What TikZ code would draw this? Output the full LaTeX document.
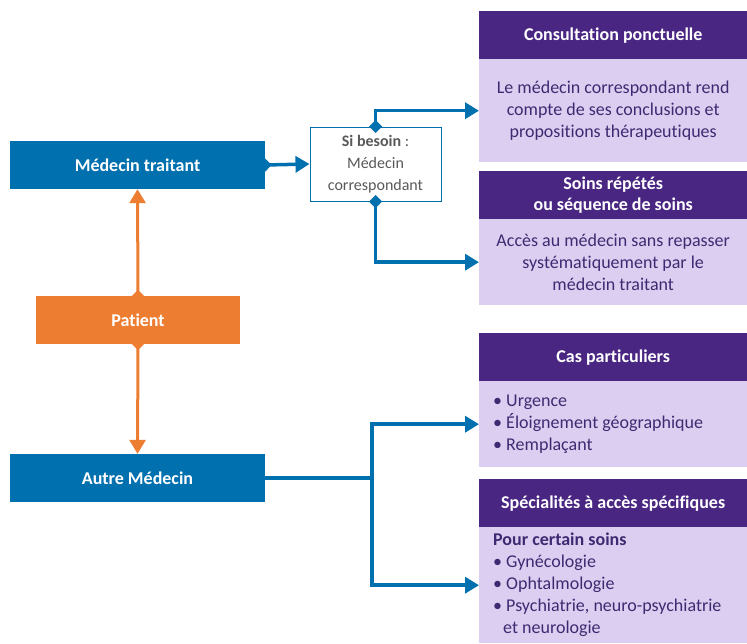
\documentclass[tikz,border=0pt]{standalone}
\usepackage{fontspec}
\setmainfont{Carlito}[Ligatures=NoCommon]
\usetikzlibrary{arrows.meta}

\definecolor{bleu}{HTML}{0070AF}
\definecolor{orange}{HTML}{ED7D31}
\definecolor{violet}{HTML}{4A2683}
\definecolor{lilas}{HTML}{DCCEF0}
\definecolor{texteviolet}{HTML}{3E2A72}
\definecolor{gris}{HTML}{595959}

\begin{document}
\begin{tikzpicture}[x=1pt,y=-1pt,
		every node/.style={inner sep=0pt,font=\fontsize{18}{22}\selectfont},
		acteur/.style={fill=bleu,text=white,font=\fontsize{18}{22}\selectfont\bfseries,
			minimum width=255pt,minimum height=48pt},
		titre/.style={fill=violet,text=white,font=\fontsize{18}{21.5}\selectfont\bfseries,
			minimum width=268pt,minimum height=48pt,anchor=north west,align=center},
		corps/.style={fill=lilas,text=texteviolet,minimum width=268pt,anchor=north west},
		lien/.style={draw=bleu,line width=3.5pt,
			{Diamond[width=13pt,length=13pt]}-{Triangle[width=16pt,length=14pt]},
			shorten <=-6.5pt},
		lienp/.style={draw=orange,line width=3pt,
			{Diamond[width=12pt,length=12pt]}-{Triangle[width=16pt,length=14pt]},
			shorten <=-6pt}]
			\useasboundingbox (0,0) rectangle (747,643);
			% acteurs a gauche
			\node [acteur] (traitant) at (137.5,165) {Médecin traitant};
			\node [acteur,fill=orange,minimum width=204pt] (patient) at (138,320) {Patient};
			\node [acteur] (autre) at (137.5,478) {Autre Médecin};
			\node [draw=bleu,line width=1pt,fill=white,text=gris,align=center,
				font=\fontsize{16}{22}\selectfont,
				minimum width=131pt,minimum height=74pt] (besoin) at (375.5,164)
				{\textbf{Si besoin} :\\Médecin\\correspondant};
			% cadres a droite
			\node [titre] (consT) at (479,11) {Consultation ponctuelle};
			\node [corps,minimum height=103pt,align=center] (consB) at (479,59)
				{Le médecin correspondant rend\\compte de ses conclusions et\\propositions thérapeutiques};
			\node [titre] (soinsT) at (479,171) {Soins répétés\\ou séquence de soins};
			\node [corps,minimum height=86pt,align=center] (soinsB) at (479,219)
				{Accès au médecin sans repasser\\systématiquement par le\\médecin traitant};
			\node [titre] (casT) at (479,333) {Cas particuliers};
			\node [corps,minimum height=86pt,align=flush left,text width=240pt] (casB) at (479,381)
				{• Urgence\\• Éloignement géographique\\• Remplaçant};
			\node [titre] (specT) at (479,479) {Spécialités à accès spécifiques};
			\node [corps,minimum height=116pt,align=flush left,text width=240pt] (specB) at (479,527)
				{\textbf{Pour certain soins}\\• Gynécologie\\• Ophtalmologie\\• Psychiatrie, neuro-psychiatrie\\\hspace*{10pt}et neurologie};
			% liens
			\draw [lienp] (patient.north) -- (traitant.south);
			\draw [lienp] (patient.south) -- (autre.north);
			\draw [lien] (traitant.east) -- (besoin.west);
			\draw [lien] (besoin.north) |- (consB.west);
			\draw [lien] (besoin.south) |- (soinsB.west);
			\coordinate (fourche) at (372,478);
			\draw [lien,-] (autre.east) -- (fourche);
			\draw [draw=bleu,line width=3.5pt,{Triangle[width=16pt,length=14pt]}-{Triangle[width=16pt,length=14pt]}]
				(casB.west) -| (fourche) |- (specB.west);
\end{tikzpicture}
\end{document}
